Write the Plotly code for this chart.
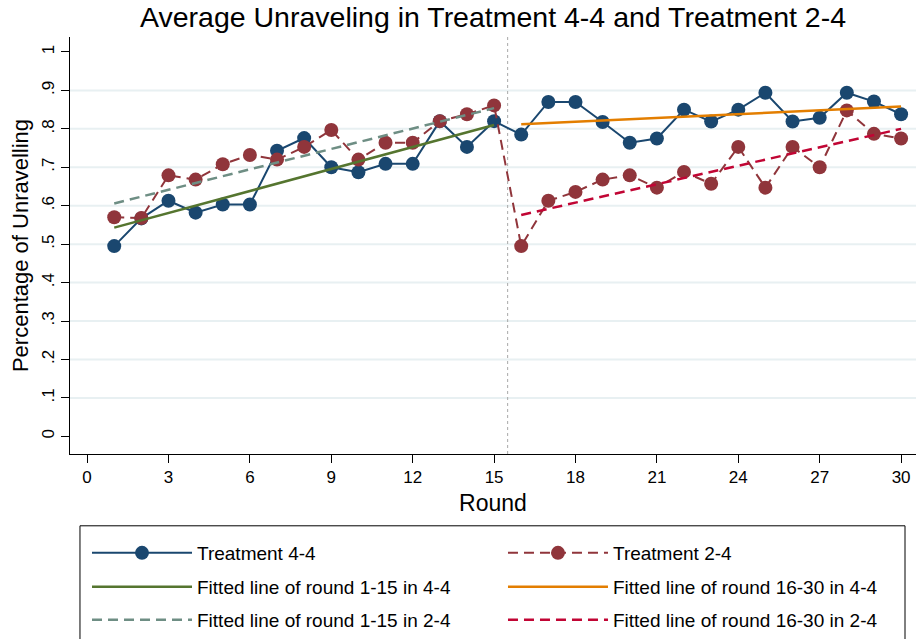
import plotly.graph_objects as go

# ---------------- data ----------------
rounds = list(range(1, 31))
treat_44 = [0.495, 0.567, 0.613, 0.582, 0.603, 0.603, 0.743, 0.776, 0.700, 0.687,
            0.709, 0.709, 0.820, 0.753, 0.820, 0.785, 0.870, 0.870, 0.818, 0.764,
            0.775, 0.850, 0.819, 0.850, 0.894, 0.819, 0.829, 0.894, 0.871, 0.838]
treat_24 = [0.570, 0.568, 0.679, 0.668, 0.708, 0.732, 0.720, 0.753, 0.797, 0.720,
            0.764, 0.764, 0.820, 0.838, 0.861, 0.495, 0.613, 0.636, 0.668, 0.679,
            0.647, 0.688, 0.657, 0.753, 0.647, 0.753, 0.700, 0.848, 0.787, 0.775]

fit_rounds_first = [1, 15]
fit_rounds_second = [16, 30]
fit_44_first = [0.543, 0.810]
fit_44_second = [0.812, 0.858]
fit_24_first = [0.606, 0.854]
fit_24_second = [0.576, 0.800]

split_round = 15.5
x_tick_vals = list(range(0, 31, 3))
y_tick_vals = [0, 0.1, 0.2, 0.3, 0.4, 0.5, 0.6, 0.7, 0.8, 0.9, 1]
y_tick_text = ["0", ".1", ".2", ".3", ".4", ".5", ".6", ".7", ".8", ".9", "1"]
grid_levels = [0.1, 0.2, 0.3, 0.4, 0.5, 0.6, 0.7, 0.8, 0.9]

FONT = "Liberation Sans, Arial, Helvetica, sans-serif"
NAVY = "#1a476f"
MAROON = "#90353b"
FOREST = "#55752f"
DKORANGE = "#e37e00"
TEAL = "#6e8e84"
CRANBERRY = "#c10534"
DASH = "10px,6px"

fig = go.Figure()

fig.add_trace(go.Scatter(
    x=rounds, y=treat_44, mode="lines+markers", name="Treatment 4-4",
    line=dict(color=NAVY, width=2), marker=dict(color=NAVY, size=14),
    legend="legend"))
fig.add_trace(go.Scatter(
    x=rounds, y=treat_24, mode="lines+markers", name="Treatment 2-4",
    line=dict(color=MAROON, width=2, dash=DASH), marker=dict(color=MAROON, size=14),
    legend="legend2"))
fig.add_trace(go.Scatter(
    x=fit_rounds_first, y=fit_44_first, mode="lines",
    name="Fitted line of round 1-15 in 4-4",
    line=dict(color=FOREST, width=2.5), legend="legend3"))
fig.add_trace(go.Scatter(
    x=fit_rounds_second, y=fit_44_second, mode="lines",
    name="Fitted line of round 16-30 in 4-4",
    line=dict(color=DKORANGE, width=2.5), legend="legend4"))
fig.add_trace(go.Scatter(
    x=fit_rounds_first, y=fit_24_first, mode="lines",
    name="Fitted line of round 1-15 in 2-4",
    line=dict(color=TEAL, width=2.5, dash=DASH), legend="legend5"))
fig.add_trace(go.Scatter(
    x=fit_rounds_second, y=fit_24_second, mode="lines",
    name="Fitted line of round 16-30 in 2-4",
    line=dict(color=CRANBERRY, width=2.5, dash=DASH), legend="legend6"))

shapes = []
for g in grid_levels:
    shapes.append(dict(type="line", xref="paper", x0=0, x1=1, yref="y", y0=g, y1=g,
                       line=dict(color="#e8f0f2", width=2), layer="below"))
shapes.append(dict(type="line", xref="x", x0=split_round, x1=split_round,
                   yref="paper", y0=0, y1=1,
                   line=dict(color="#a8a8a8", width=1, dash="dot"), layer="below"))
# legend frame
shapes.append(dict(type="rect", xref="paper", yref="paper",
                   x0=0.0118, x1=0.987, y0=-0.50, y1=-0.1722,
                   line=dict(color="black", width=1), fillcolor="rgba(0,0,0,0)"))


def leg(x, y):
    return dict(orientation="v", xanchor="left", yanchor="middle", x=x, y=y,
                itemwidth=100, visible=True,
                font=dict(family=FONT, size=19, color="black"),
                bgcolor="rgba(0,0,0,0)", borderwidth=0)


COL1, COL2 = 0.0201, 0.5118
ROW1, ROW2, ROW3 = -0.2344, -0.3158, -0.3947

fig.update_layout(
    width=917, height=639, autosize=False, showlegend=True,
    margin=dict(l=70, r=1, t=37, b=184),
    plot_bgcolor="white", paper_bgcolor="white",
    font=dict(family=FONT, color="black"),
    title=dict(text="Average Unraveling in Treatment 4-4 and Treatment 2-4",
               x=0.5, xref="paper", xanchor="center", y=0.973, yanchor="middle",
               font=dict(family=FONT, size=28.5, color="black")),
    xaxis=dict(range=[-0.63, 30.55], tickvals=x_tick_vals, ticks="outside", ticklen=8,
               tickcolor="black", tickwidth=1, showline=True, linecolor="black",
               linewidth=1, showgrid=False, zeroline=False, automargin=False,
               tickfont=dict(family=FONT, size=17, color="black"),
               title=dict(text="Round", font=dict(family=FONT, size=23, color="black"),
                          standoff=8)),
    yaxis=dict(range=[-0.046, 1.039], tickvals=y_tick_vals, ticktext=y_tick_text,
               tickangle=-90, ticks="outside", ticklen=8, tickcolor="black",
               tickwidth=1, showline=True, linecolor="black", linewidth=1,
               showgrid=False, zeroline=False, automargin=False,
               ticklabelstandoff=0,
               tickfont=dict(family=FONT, size=17, color="black"),
               title=dict(text="Percentage of Unravelling",
                          font=dict(family=FONT, size=22, color="black"), standoff=4)),
    legend=leg(COL1, ROW1),
    legend2=leg(COL2, ROW1),
    legend3=leg(COL1, ROW2),
    legend4=leg(COL2, ROW2),
    legend5=leg(COL1, ROW3),
    legend6=leg(COL2, ROW3),
    shapes=shapes,
)

fig.write_html("out.html",
               config={"displayModeBar": False},
               post_script="document.body.style.margin='0px';")
